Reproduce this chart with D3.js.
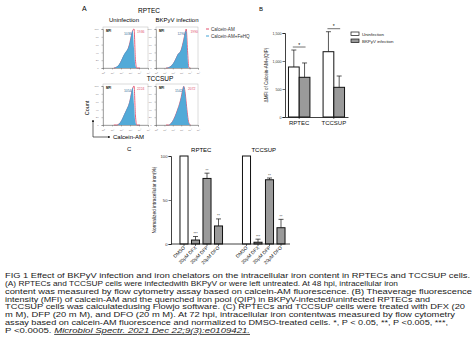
<!DOCTYPE html>
<html>
<head>
<meta charset="utf-8">
<script src="https://cdn.jsdelivr.net/npm/d3@7"></script>
<style>
  body { margin: 0; background: #fff; }
  svg { display: block; font-family: "Liberation Sans", Arial, sans-serif; }
</style>
</head>
<body>
<svg id="fig" width="474" height="355"></svg>
<script>
// ---- Panel A: flow cytometry histograms (count, % of mode) ----
var histX = [1.2, 1.5, 1.8, 2.1, 2.4, 2.6, 2.8, 3.0, 3.15, 3.3, 3.45, 3.6, 3.75, 3.9, 4.1];
var rptecUninfBlue = [0, 3, 10, 24, 38, 44, 52, 68, 85, 97, 50, 6, 0, 0, 0];
var rptecUninfRed  = [0, 2, 8, 21, 35, 41, 50, 66, 83, 96, 100, 22, 0, 0, 0];
var rptecInfBlue   = [0, 2, 6, 14, 27, 36, 40, 48, 60, 74, 90, 96, 28, 0, 0];
var rptecInfRed    = [0, 1, 5, 12, 25, 34, 39, 46, 58, 72, 88, 100, 45, 2, 0];
var tccUninfBlue   = [0, 0, 4, 15, 30, 40, 50, 66, 83, 96, 52, 7, 0, 0, 0];
var tccUninfRed    = [0, 0, 3, 12, 27, 37, 47, 62, 80, 94, 100, 26, 0, 0, 0];
var tccInfBlue     = [0, 0, 5, 15, 30, 42, 55, 72, 88, 100, 85, 55, 24, 5, 0];
var tccInfRed      = [0, 0, 4, 14, 29, 41, 54, 71, 87, 99, 86, 56, 26, 6, 0];
var mfiBlue = ['1036', '1290', '1054', '1542'];
var mfiRed  = ['1936', '1990', '2224', '2072'];
var histLegend = ['Calcein-AM', 'Calcein-AM+FeHQ'];

// ---- Panel B: delta MFI ----
var cellLines = ['RPTEC', 'TCCSUP'];
var infection = ['Uninfection', 'BKPyV infection'];
var mfiMean = [[893, 709], [1166, 530]];
var mfiErr  = [[1196, 965], [1523, 732]];
var bTicks = [0, 500, 1000, 1500];

// ---- Panel C: normalized intracellular iron ----
var treatments = ['DMSO', '20\u03bcM DFX', '20\u03bcM DFP', '20\u03bcM DFO'];
var ironMean = [[100, 4.5, 74.5, 20.5], [100, 2, 73, 18.5]];
var ironErr  = [[null, 8.5, 80.5, 28.5], [null, 5.5, 75, 28]];
var ironSig  = [['', '***', '**', '**'], ['', '***', '**', '**']];
var cTicks = [0, 50, 100];

var captionLines = [
  'FIG 1 Effect of BKPyV infection and iron chelators on the intracellular iron content in RPTECs and TCCSUP cells.',
  '(A) RPTECs and TCCSUP cells were infectedwith BKPyV or were left untreated. At 48 hpi, intracellular iron',
  'content was measured by flow cytometry assay based on calcein-AM fluorescence. (B) Theaverage fluorescence',
  'intensity (MFI) of calcein-AM and the quenched iron pool (QIP) in BKPyV-infected/uninfected RPTECs and',
  'TCCSUP cells was calculatedusing Flowjo software. (C) RPTECs and TCCSUP cells were treated with DFX (20',
  'm M), DFP (20 m M), and DFO (20 m M). At 72 hpi, intracellular iron contentwas measured by flow cytometry',
  'assay based on calcein-AM fluorescence and normalized to DMSO-treated cells. *, P < 0.05, **, P <0.005, ***,'
];
var captionEnd = 'P <0.0005. ';
var citation = 'Microbiol Spectr. 2021 Dec 22;9(3):e0109421.';

var svg = d3.select('#fig');
var blue = '#43a3d5', red = '#e2506e';

// ================= Panel A =================
svg.append('text').attr('x', 82).attr('y', 11).attr('font-size', 7).text('A');
svg.append('text').attr('x', 149).attr('y', 13).attr('font-size', 6.5).attr('text-anchor', 'middle').text('RPTEC');
svg.append('text').attr('x', 124).attr('y', 22).attr('font-size', 6).attr('text-anchor', 'middle').text('Uninfection');
svg.append('text').attr('x', 177).attr('y', 22).attr('font-size', 6).attr('text-anchor', 'middle').text('BKPyV infection');
svg.append('text').attr('x', 160).attr('y', 81).attr('font-size', 6.5).attr('text-anchor', 'middle').text('TCCSUP');

var boxes = [
  {x: 103, y: 27, w: 45, h: 41, b: rptecUninfBlue, r: rptecUninfRed},
  {x: 156, y: 27, w: 42, h: 41, b: rptecInfBlue, r: rptecInfRed},
  {x: 103, y: 84, w: 45, h: 41, b: tccUninfBlue, r: tccUninfRed},
  {x: 156, y: 84, w: 42, h: 41, b: tccInfBlue, r: tccInfRed}
];

boxes.forEach(function(bx, i) {
  var g = svg.append('g');
  var x = d3.scaleLinear().domain([0, 5]).range([bx.x, bx.x + bx.w]);
  var y = d3.scaleLinear().domain([0, 100]).range([bx.y + bx.h, bx.y + 2]);

  g.append('rect').attr('x', bx.x).attr('y', bx.y).attr('width', bx.w).attr('height', bx.h)
    .attr('fill', 'none').attr('stroke', '#b8b8b8').attr('stroke-width', 0.5);

  var area = d3.area().x(function(d, j) { return x(histX[j]); })
    .y0(y(0)).y1(function(d) { return y(d); }).curve(d3.curveMonotoneX);
  var line = d3.line().x(function(d, j) { return x(histX[j]); })
    .y(function(d) { return y(d); }).curve(d3.curveMonotoneX);

  g.append('path').datum(bx.r).attr('d', line).attr('fill', 'none')
    .attr('stroke', red).attr('stroke-width', 0.9);
  g.append('path').datum(bx.b).attr('d', area).attr('fill', blue).attr('fill-opacity', 0.92);

  var ax = d3.axisBottom(x).ticks(5).tickSize(1.5).tickFormat(function(d) { return '10' + '\u2070\u00b9\u00b2\u00b3\u2074\u2075'[d]; });
  var gx = g.append('g').attr('transform', 'translate(0,' + (bx.y + bx.h) + ')').call(ax);
  var ay = d3.axisLeft(y).ticks(5).tickSize(1.5);
  var gy = g.append('g').attr('transform', 'translate(' + bx.x + ',0)').call(ay);
  [gx, gy].forEach(function(a) {
    a.select('.domain').attr('stroke', '#666').attr('stroke-width', 0.5);
    a.selectAll('.tick line').attr('stroke', '#666').attr('stroke-width', 0.4);
    a.selectAll('.tick text').attr('font-size', 2.4).attr('fill', '#777');
  });

  g.append('text').attr('x', bx.x + 3).attr('y', bx.y + 5).attr('font-size', 3).attr('font-weight', 'bold').text('MFI');
  var pk = histX[bx.b.indexOf(d3.max(bx.b))];
  g.append('text').attr('x', x(pk) - 5).attr('y', bx.y + 8).attr('font-size', 3.4)
    .attr('text-anchor', 'middle').attr('fill', '#3a6f9a').text(mfiBlue[i]);
  g.append('text').attr('x', x(pk) + 8).attr('y', bx.y + 6).attr('font-size', 3.4)
    .attr('text-anchor', 'middle').attr('fill', red).text(mfiRed[i]);
});

// legend A
histLegend.forEach(function(t, i) {
  svg.append('line').attr('x1', 206).attr('x2', 209).attr('y1', 29 + i * 7).attr('y2', 29 + i * 7)
    .attr('stroke', i === 0 ? red : blue).attr('stroke-width', 1);
  svg.append('text').attr('x', 211).attr('y', 30.5 + i * 7).attr('font-size', 4.6).attr('fill', '#333').text(t);
});

// Count / Calcein-AM arrows
svg.append('defs').append('marker').attr('id', 'arr').attr('viewBox', '0 0 6 6')
  .attr('refX', 5).attr('refY', 3).attr('markerWidth', 4).attr('markerHeight', 4).attr('orient', 'auto')
  .append('path').attr('d', 'M0,0 L6,3 L0,6 Z').attr('fill', '#222');
svg.append('path').attr('d', 'M93,137 L93,120').attr('stroke', '#222').attr('stroke-width', 0.7).attr('marker-end', 'url(#arr)');
svg.append('path').attr('d', 'M93,137 L110,137').attr('stroke', '#222').attr('stroke-width', 0.7).attr('marker-end', 'url(#arr)');
svg.append('text').attr('transform', 'translate(89,108) rotate(-90)').attr('font-size', 5.5)
  .attr('text-anchor', 'middle').text('Count');
svg.append('text').attr('x', 113).attr('y', 139).attr('font-size', 6).text('Calcein-AM');

// ================= Panel B =================
svg.append('text').attr('x', 259).attr('y', 11).attr('font-size', 6).text('B');
var yB = d3.scaleLinear().domain([0, 1500]).range([117, 33]);
var xB = d3.scaleBand().domain(cellLines).range([285, 348]).paddingInner(0.38).paddingOuter(0.1);
var xBi = d3.scaleBand().domain(infection).range([0, xB.bandwidth()]);
var fillB = d3.scaleOrdinal().domain(infection).range(['#fff', '#9a9a9a']);

var gB = svg.append('g');
cellLines.forEach(function(c, ci) {
  infection.forEach(function(s, si) {
    var bx = xB(c) + xBi(s), bw = xBi.bandwidth(), cx = bx + bw / 2;
    gB.append('line').attr('x1', cx).attr('x2', cx).attr('y1', yB(mfiMean[ci][si])).attr('y2', yB(mfiErr[ci][si]))
      .attr('stroke', '#111').attr('stroke-width', 0.7);
    gB.append('line').attr('x1', cx - 2.5).attr('x2', cx + 2.5).attr('y1', yB(mfiErr[ci][si])).attr('y2', yB(mfiErr[ci][si]))
      .attr('stroke', '#111').attr('stroke-width', 0.7);
    gB.append('rect').attr('x', bx).attr('y', yB(mfiMean[ci][si])).attr('width', bw)
      .attr('height', yB(0) - yB(mfiMean[ci][si])).attr('fill', fillB(s)).attr('stroke', '#111').attr('stroke-width', 1);
  });
  // significance bracket
  var top = d3.max(mfiErr[ci]);
  var yy = yB(top) - 3;
  var x1 = xB(c) + xBi.bandwidth() / 2 - 1, x2 = xB(c) + xBi.bandwidth() * 1.5 + 1;
  gB.append('line').attr('x1', x1).attr('x2', x2).attr('y1', yy).attr('y2', yy).attr('stroke', '#111').attr('stroke-width', 0.6);
  gB.append('text').attr('x', (x1 + x2) / 2).attr('y', yy - 0.5).attr('font-size', 5).attr('text-anchor', 'middle').text('*');
});

var axB = gB.append('g').attr('transform', 'translate(285,0)').call(d3.axisLeft(yB).tickValues(bTicks).tickSize(2.5));
var axBx = gB.append('g').attr('transform', 'translate(0,117)')
  .call(d3.axisBottom(xB).tickSize(2).tickSizeOuter(0));
[axB, axBx].forEach(function(a) {
  a.select('.domain').attr('stroke', '#111').attr('stroke-width', 0.8);
  a.selectAll('.tick line').attr('stroke', '#111').attr('stroke-width', 0.6);
});
axB.selectAll('.tick text').attr('font-size', 3.6).attr('fill', '#333').attr('x', -3.5);
axBx.selectAll('.tick text').attr('font-size', 6).attr('fill', '#111').attr('y', 4);
svg.append('text').attr('transform', 'translate(268,75) rotate(-90)').attr('font-size', 4.6)
  .attr('text-anchor', 'middle').attr('fill', '#222').text('\u0394MFI of Calcein-AM+(QIP)');

infection.forEach(function(s, i) {
  svg.append('rect').attr('x', 351).attr('y', 32 + i * 7).attr('width', 8).attr('height', 3.5)
    .attr('fill', fillB(s)).attr('stroke', '#111').attr('stroke-width', 0.7);
  svg.append('text').attr('x', 362).attr('y', 35.5 + i * 7).attr('font-size', 4.4).attr('fill', '#222').text(s);
});

// ================= Panel C =================
svg.append('text').attr('x', 127).attr('y', 151).attr('font-size', 6).text('C');
var yC = d3.scaleLinear().domain([0, 100]).range([244, 156]);
var xC = d3.scaleBand().domain(cellLines).range([172, 293]).paddingInner(0.264).paddingOuter(0.1);
var xCi = d3.scaleBand().domain(treatments).range([0, xC.bandwidth()]).paddingInner(0.3).paddingOuter(0.15);

var gC = svg.append('g');
cellLines.forEach(function(c, ci) {
  gC.append('text').attr('x', xC(c) + xC.bandwidth() / 2).attr('y', 152).attr('font-size', 6)
    .attr('text-anchor', 'middle').text(c);
  treatments.forEach(function(t, ti) {
    var bx = xC(c) + xCi(t), bw = xCi.bandwidth(), cx = bx + bw / 2;
    var e = ironErr[ci][ti];
    if (e !== null) {
      gC.append('line').attr('x1', cx).attr('x2', cx).attr('y1', yC(ironMean[ci][ti])).attr('y2', yC(e))
        .attr('stroke', '#111').attr('stroke-width', 0.7);
      gC.append('line').attr('x1', cx - 2.5).attr('x2', cx + 2.5).attr('y1', yC(e)).attr('y2', yC(e))
        .attr('stroke', '#111').attr('stroke-width', 0.7);
      gC.append('text').attr('x', cx).attr('y', yC(e) - 1.5).attr('font-size', 3.6)
        .attr('text-anchor', 'middle').attr('fill', '#333').text(ironSig[ci][ti]);
    }
    gC.append('rect').attr('x', bx).attr('y', yC(ironMean[ci][ti])).attr('width', bw)
      .attr('height', yC(0) - yC(ironMean[ci][ti])).attr('fill', ti === 0 ? '#fff' : '#9a9a9a')
      .attr('stroke', '#111').attr('stroke-width', 1);
    gC.append('line').attr('x1', cx).attr('x2', cx).attr('y1', 244).attr('y2', 246).attr('stroke', '#111').attr('stroke-width', 0.6);
    gC.append('text').attr('transform', 'translate(' + (cx + 1.5) + ',248) rotate(-45)').attr('font-size', 4.8)
      .attr('text-anchor', 'end').attr('fill', '#222').text(t);
  });
});
gC.append('line').attr('x1', 171).attr('x2', 290).attr('y1', 244).attr('y2', 244).attr('stroke', '#111').attr('stroke-width', 0.8);
var axC = gC.append('g').attr('transform', 'translate(171,0)').call(d3.axisLeft(yC).tickValues(cTicks).tickSize(2.5));
axC.select('.domain').attr('stroke', '#111').attr('stroke-width', 0.8);
axC.selectAll('.tick line').attr('stroke', '#111').attr('stroke-width', 0.6);
axC.selectAll('.tick text').attr('font-size', 4.2).attr('fill', '#333').attr('x', -3.5);
svg.append('text').attr('transform', 'translate(156,200) rotate(-90)').attr('font-size', 4.8)
  .attr('text-anchor', 'middle').attr('fill', '#222').text('Normalized intracellular iron(%)');

// ================= Caption =================
var capEnds = [470, 398, 472, 430, 465, 455, 448, 250];
captionLines.forEach(function(t, i) {
  svg.append('text').attr('x', 5).attr('y', 278 + i * 7.85).attr('font-size', 7.9).attr('fill', '#1a1a1a')
    .attr('textLength', capEnds[i] - 5).attr('lengthAdjust', 'spacingAndGlyphs').text(t);
});
var last = svg.append('text').attr('x', 5).attr('y', 278 + 7 * 7.85).attr('font-size', 7.9).attr('fill', '#1a1a1a')
  .attr('textLength', capEnds[7] - 5).attr('lengthAdjust', 'spacingAndGlyphs');
last.append('tspan').text(captionEnd);
last.append('tspan').attr('font-style', 'italic').attr('text-decoration', 'underline').text(citation);
</script>
</body>
</html>
